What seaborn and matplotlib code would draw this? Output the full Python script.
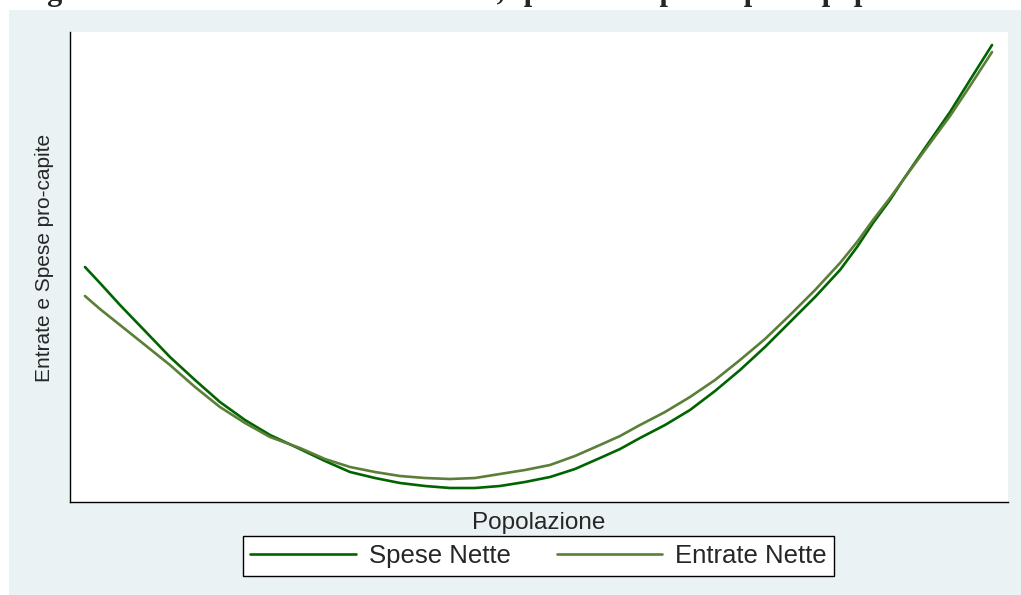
import matplotlib
matplotlib.use("Agg")
import matplotlib.pyplot as plt
import pandas as pd
import seaborn as sns
from matplotlib.patches import Rectangle

# values (arbitrary units, the chart shows no ticks)
popolazione = [0, 1.65, 3.86, 6.62, 9.37, 12.13, 14.88, 17.64, 20.4, 23.7,
               26.46, 29.22, 31.97, 34.73, 37.49, 40.24, 43.0, 45.75, 48.51, 51.27,
               54.02, 56.78, 58.99, 61.19, 63.95, 66.7, 69.46, 72.22, 74.97, 77.73,
               80.49, 83.24, 85.12, 86.88, 88.75, 90.19, 92.61, 95.37, 97.57, 100]
spese_nette = [235, 219, 197, 171, 145, 122, 100, 82, 67, 53,
               41, 30, 24, 19, 16, 14, 14, 16, 20, 25,
               33, 44, 53, 64, 77, 92, 111, 132, 155, 180,
               205, 232, 255, 279, 302, 322, 354, 390, 422, 457]
entrate_nette = [206, 193, 177, 157, 137, 115, 95, 79, 65, 54,
                 43, 35, 30, 26, 24, 23, 24, 28, 32, 37,
                 46, 57, 66, 77, 90, 105, 122, 142, 163, 187,
                 212, 239, 260, 282, 304, 322, 352, 386, 416, 450]
series_names = ["Spese Nette", "Entrate Nette"]
colors = ["#006400", "#5b7f38"]
title = "Figura 1: Relazione tra entrate nette, spese nette pro-capite e popolazione"

df = pd.concat(
    [
        pd.DataFrame({"Popolazione": popolazione, "valore": spese_nette, "serie": series_names[0]}),
        pd.DataFrame({"Popolazione": popolazione, "valore": entrate_nette, "serie": series_names[1]}),
    ]
)

sns.set_style("white")
plt.rcParams["font.family"] = ["Liberation Sans", "DejaVu Sans"]

W, H = 1021, 595
fig = plt.figure(figsize=(W / 100, H / 100), dpi=100, facecolor="white")
# light graph region
fig.patches.append(
    Rectangle((9 / W, -0.01), 1, 1.01 - 10 / H, transform=fig.transFigure, facecolor="#eaf2f3", edgecolor="none", zorder=-10)
)

ax = fig.add_axes([70 / W, 1 - 502 / H, (1008 - 70) / W, (502 - 32) / H])
ax.set_facecolor("white")
sns.lineplot(data=df, x="Popolazione", y="valore", hue="serie", palette=colors, linewidth=1.9, ax=ax)

ax.set_xlim(-1.65, 101.76)
ax.set_ylim(0, 470)
ax.set_xticks([])
ax.set_yticks([])
for s in ["top", "right"]:
    ax.spines[s].set_visible(False)
for s in ["left", "bottom"]:
    ax.spines[s].set_color("black")
    ax.spines[s].set_linewidth(1.0)

ax.set_xlabel("Popolazione", fontsize=17.5, labelpad=7)
ax.set_ylabel("Entrate e Spese pro-capite", fontsize=15)
ax.yaxis.set_label_coords(-16 / 938, 0.52)

handles, labels = ax.get_legend_handles_labels()
ax.legend(
    handles,
    labels,
    ncol=2,
    loc="center",
    bbox_to_anchor=(538.5 / W, 1 - 556 / H),
    bbox_transform=fig.transFigure,
    fontsize=18.5,
    frameon=True,
    fancybox=False,
    framealpha=1,
    edgecolor="black",
    handlelength=4.1,
    handletextpad=0.5,
    columnspacing=1.8,
    borderpad=0.3,
)
ax.get_legend().get_frame().set_linewidth(1.0)

# title, mostly cut off at the top edge as in the original
fig.text(20 / W, 1.0, title, ha="left", va="baseline", fontsize=22, fontweight="bold",
         family=["Liberation Serif", "DejaVu Serif"])

fig.savefig("out.png", dpi=100, facecolor=fig.get_facecolor())
